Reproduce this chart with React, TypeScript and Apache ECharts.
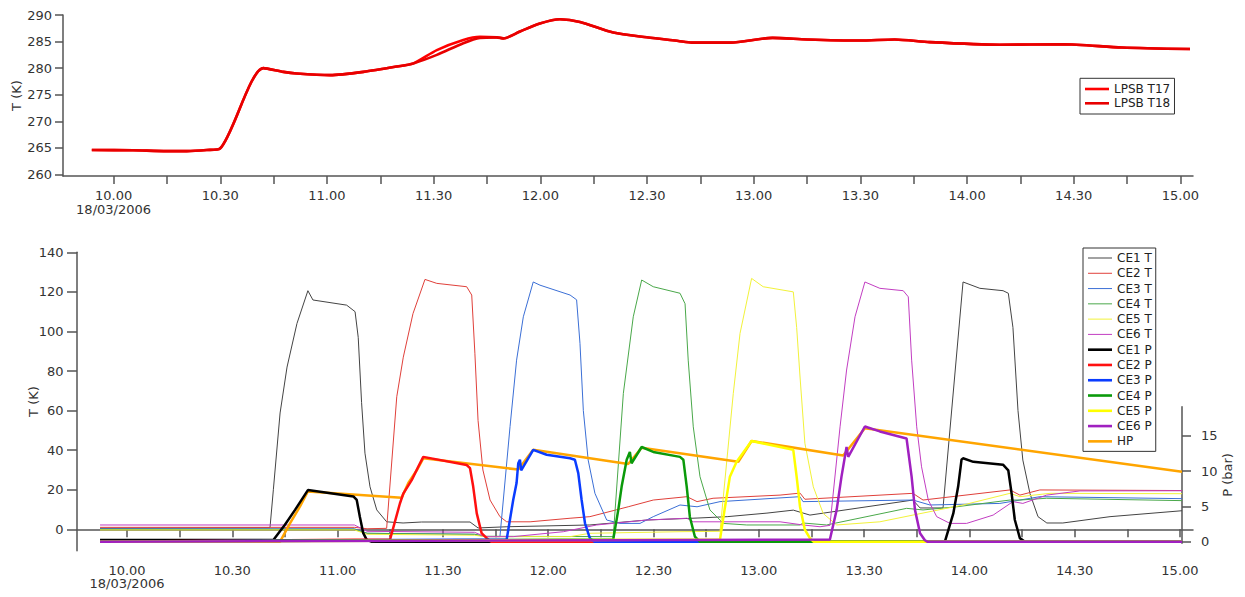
import React, { useEffect, useRef } from 'react';
import * as echarts from 'echarts';

const FONT = '"DejaVu Sans", Verdana, sans-serif';

// ---- axis ticks / labels (time in decimal hours) ----
const timeLabels = [10, 10.5, 11, 11.5, 12, 12.5, 13, 13.5, 14, 14.5, 15];
const timeTicks = [10, 10.25, 10.5, 10.75, 11, 11.25, 11.5, 11.75, 12, 12.25, 12.5, 12.75, 13, 13.25, 13.5, 13.75, 14, 14.25, 14.5, 14.75, 15];
const dateLabel = '18/03/2006';
const topTempTicks = [260, 265, 270, 275, 280, 285, 290];
const bottomTempTicks = [0, 20, 40, 60, 80, 100, 120, 140];
const pressureTicks = [0, 5, 10, 15];

// ---- top chart: LPSB temperatures (K) ----
const lpsbT17: [number, number][] = [
  [9.898, 264.6], [10.091, 264.55], [10.249, 264.4], [10.343, 264.4], [10.437, 264.6], [10.499, 264.9],
  [10.702, 280.0], [10.796, 279.3], [10.858, 279.0], [11.015, 278.7], [11.171, 279.3], [11.327, 280.3],
  [11.405, 280.9], [11.515, 283.4], [11.639, 285.3], [11.717, 285.9], [11.796, 285.8], [11.827, 285.6],
  [11.905, 286.9], [11.998, 288.4], [12.092, 289.2], [12.186, 288.7], [12.342, 286.7], [12.499, 285.8],
  [12.647, 285.1], [12.711, 284.8], [12.891, 284.8], [13.088, 285.7], [13.25, 285.4], [13.497, 285.2],
  [13.661, 285.4], [13.825, 284.9], [14.153, 284.4], [14.448, 284.5], [14.726, 283.9], [15.045, 283.6]
];
const lpsbT18: [number, number][] = [
  [9.898, 264.6], [10.091, 264.55], [10.249, 264.4], [10.343, 264.4], [10.437, 264.6], [10.499, 264.9],
  [10.702, 280.0], [10.796, 279.3], [10.858, 279.0], [11.015, 278.7], [11.171, 279.3], [11.327, 280.3],
  [11.405, 280.9], [11.515, 282.5], [11.639, 284.7], [11.717, 285.7], [11.796, 285.8], [11.827, 285.6],
  [11.905, 286.9], [11.998, 288.4], [12.092, 289.2], [12.186, 288.7], [12.342, 286.7], [12.499, 285.8],
  [12.647, 285.1], [12.711, 284.8], [12.891, 284.8], [13.088, 285.7], [13.25, 285.4], [13.497, 285.2],
  [13.661, 285.4], [13.825, 284.9], [14.153, 284.4], [14.448, 284.5], [14.726, 283.9], [15.045, 283.6]
];

// ---- bottom chart: cell temperatures (K) ----
const ce1T: [number, number][] = [
  [9.872, 0.5], [10.679, 0.8], [10.695, 20], [10.727, 58.8], [10.76, 82], [10.807, 104], [10.859, 120.6],
  [10.883, 115.9], [11.043, 113.3], [11.083, 110], [11.098, 97], [11.114, 64], [11.13, 38.5], [11.154, 21.5],
  [11.186, 9.8], [11.233, 3.8], [11.311, 3.2], [11.399, 3.7], [11.629, 3.7], [11.667, 0.7], [11.804, 1.3],
  [12.198, 2.2], [12.469, 4.7], [12.707, 5.7], [12.85, 6.4], [13.039, 8.2], [13.164, 9.7], [13.243, 7.2],
  [13.732, 14.8], [13.766, 10.8], [13.875, 10.8], [13.97, 125], [14.05, 121.8], [14.16, 120.6], [14.185, 119.3],
  [14.207, 102], [14.231, 60], [14.254, 35], [14.288, 18], [14.326, 6.4], [14.368, 3.2], [14.444, 3.2],
  [14.668, 6.4], [15.01, 9.4]
];
const ce2T: [number, number][] = [
  [9.872, 1.0], [11.08, 1.0], [11.14, 0.3], [11.233, 0.5], [11.281, 67], [11.312, 87], [11.358, 109],
  [11.415, 126.3], [11.471, 124.3], [11.613, 122.6], [11.637, 118.4], [11.652, 89], [11.667, 55], [11.69, 30],
  [11.724, 14.8], [11.771, 6.4], [11.803, 3.8], [11.914, 3.8], [12.104, 5.6], [12.198, 6.4], [12.38, 11.4],
  [12.499, 14.8], [12.659, 16.5], [12.707, 14], [12.783, 15.7], [13.101, 17.3], [13.196, 18.3], [13.219, 15.2],
  [13.732, 18.2], [13.78, 14.8], [14.193, 19.9], [14.24, 17.3], [14.335, 19.9], [15.01, 19.6]
];
const ce3T: [number, number][] = [
  [9.872, 0.3], [11.08, 0.3], [11.14, -2], [11.65, -2.5], [11.7, -3.7], [11.771, -3.7], [11.819, 52],
  [11.85, 85.5], [11.882, 107.4], [11.929, 125], [11.961, 123.4], [12.104, 118.4], [12.135, 116], [12.151, 94],
  [12.167, 60], [12.19, 35], [12.222, 18.2], [12.278, 4.7], [12.341, 3], [12.436, 3], [12.499, 6.4],
  [12.626, 12.3], [12.707, 11.4], [12.816, 14], [13.196, 16.5], [13.21, 14], [13.732, 14.8], [13.813, 12.3],
  [14.145, 13.1], [14.24, 14.8], [14.335, 16.5], [15.01, 15.5]
];
const ce4T: [number, number][] = [
  [9.872, 0], [11.08, 0], [11.14, -2], [11.65, -2.5], [11.7, -3.5], [12.309, -3.7], [12.357, 68.7],
  [12.404, 107.4], [12.444, 126], [12.499, 122.6], [12.626, 119.3], [12.65, 114], [12.665, 85.5], [12.689, 51.8],
  [12.721, 26.6], [12.768, 9.8], [12.832, 3], [12.943, 2.2], [13.196, 2.2], [13.21, 3.2], [13.322, 2.2],
  [13.702, 10.6], [13.78, 9.8], [13.94, 11.4], [14.193, 14.8], [14.24, 14.8], [14.367, 15.7], [15.01, 14.5]
];
const ce5T: [number, number][] = [
  [9.872, -0.3], [11.08, -0.3], [11.14, -2.5], [11.65, -3], [11.7, -3.7], [12.104, -3.7], [12.198, -2],
  [12.626, -1.2], [12.816, -1], [12.879, 68.7], [12.911, 99], [12.966, 126.8], [13.021, 122.6], [13.164, 120],
  [13.18, 102], [13.196, 77], [13.219, 43.5], [13.259, 21.5], [13.306, 8], [13.37, 2.2], [13.575, 3.8],
  [13.732, 7.2], [13.97, 12.3], [14.193, 18.2], [14.24, 16.5], [14.383, 18.2], [15.01, 18]
];
const ce6T: [number, number][] = [
  [9.872, 2.2], [11.08, 2.2], [11.14, -1], [11.65, -1.5], [11.7, -3.7], [11.834, -3.7], [12.072, -1.2],
  [12.23, 2.2], [12.468, 4.7], [12.658, 5.6], [12.689, 3.8], [13.101, 3.8], [13.21, 2.2], [13.291, 1.3],
  [13.338, 2], [13.386, 51.8], [13.417, 80.5], [13.457, 107.4], [13.504, 125], [13.575, 121.8], [13.686, 120.6],
  [13.71, 117.5], [13.726, 85.5], [13.75, 51.8], [13.773, 31.6], [13.805, 14.8], [13.845, 6.4], [13.908, 3],
  [13.987, 3], [14.113, 7.2], [14.207, 14], [14.254, 13.1], [14.367, 17.3], [14.525, 19.4], [15.01, 19.5]
];

// ---- bottom chart: pressures (bar) ----
const ce1P: [number, number][] = [
  [9.872, 0.24], [10.695, 0.24], [10.75, 2.4], [10.798, 4.5], [10.859, 7.3], [11.075, 6.4], [11.091, 5.9],
  [11.106, 3.5], [11.122, 1.2], [11.138, 0.3], [11.16, 0], [13.884, 0], [13.924, 4], [13.947, 7.8],
  [13.963, 11.6], [13.97, 11.8], [14.019, 11.3], [14.16, 10.9], [14.185, 10.1], [14.201, 6.8], [14.216, 3.1],
  [14.24, 0.5], [14.264, 0], [15.01, 0]
];
const ce2P: [number, number][] = [
  [9.872, 0], [11.249, 0.3], [11.296, 5.4], [11.312, 6.8], [11.352, 8.7], [11.383, 10.6], [11.407, 12.0],
  [11.613, 10.85], [11.629, 10.4], [11.644, 7.8], [11.661, 4], [11.684, 1.2], [11.708, 0.5], [11.73, 0], [15.01, 0]
];
const ce3P: [number, number][] = [
  [9.872, 0], [11.803, 0.3], [11.834, 5.9], [11.85, 8.3], [11.858, 11.1], [11.866, 11.6], [11.872, 10.1],
  [11.929, 13], [11.993, 12.3], [12.104, 11.8], [12.127, 11.6], [12.143, 9.7], [12.159, 5.9], [12.175, 2.6],
  [12.198, 0.5], [12.22, 0], [15.01, 0]
];
const ce4P: [number, number][] = [
  [9.872, 0], [12.309, 0.3], [12.333, 4.5], [12.349, 7.8], [12.373, 11.6], [12.388, 12.7], [12.396, 11.1],
  [12.444, 13.4], [12.499, 12.7], [12.626, 12], [12.642, 11.6], [12.658, 7.8], [12.673, 3.5], [12.697, 0.7],
  [12.72, 0], [15.01, 0]
];
const ce5P: [number, number][] = [
  [9.872, 0], [12.816, 0.3], [12.84, 4.95], [12.863, 9.2], [12.895, 11.3], [12.966, 14.25], [13.164, 13],
  [13.18, 9.2], [13.196, 4.95], [13.219, 1.7], [13.243, 0.5], [13.26, 0], [15.01, 0]
];
const ce6P: [number, number][] = [
  [9.872, 0], [13.338, 0.3], [13.37, 4.5], [13.393, 9.2], [13.417, 13.4], [13.425, 12], [13.504, 16.3],
  [13.575, 15.6], [13.702, 14.6], [13.726, 9.2], [13.742, 4.5], [13.766, 1.2], [13.789, 0.2], [13.8, 0], [15.01, 0]
];
const hp: [number, number][] = [
  [9.872, 0], [10.727, 0], [10.774, 2.6], [10.821, 4.95], [10.859, 7.1], [11.304, 6.2], [11.336, 8.3],
  [11.376, 10.1], [11.407, 11.8], [11.858, 10.2], [11.929, 13], [12.38, 11], [12.444, 13.3], [12.903, 11.3],
  [12.966, 14.25], [13.401, 12.2], [13.504, 16.05], [15.01, 9.9]
];

const fmtTime = (v: number) => {
  const h = Math.floor(v + 1e-6);
  const m = Math.round((v - h) * 60);
  const s = h + '.' + (m < 10 ? '0' : '') + m;
  return Math.abs(v - 10) < 1e-6 ? s + '\n' + dateLabel : s;
};

const AX = '#555';
const TXT = '#333';
const THIN_ICON = 'path://M0,0H24V1H0Z';
const THICK_ICON = 'path://M0,0H24V2.6H0Z';

const xAxisBase = (gridIndex: number, min: number, max: number, show = true) => ({
  type: 'value', gridIndex, min, max, show,
  axisLine: { show: true, lineStyle: { color: AX, width: 1.5 } },
  axisTick: { show: true, customValues: timeTicks, length: 8, lineStyle: { color: AX, width: 1.5 } },
  axisLabel: { customValues: timeLabels, formatter: fmtTime, margin: 13, fontSize: 13, lineHeight: 13.5, color: TXT, fontFamily: FONT },
  splitLine: { show: false }
});

const yAxisBase = (gridIndex: number, min: number, max: number, ticks: number[], name: string, nameGap: number, position = 'left', margin = 11, tickLen = 8) => ({
  type: 'value', gridIndex, min, max, position, name, nameLocation: 'middle', nameGap, nameMoveOverlap: false,
  nameTextStyle: { fontSize: 13, color: TXT, fontFamily: FONT },
  axisLine: { show: true, lineStyle: { color: AX, width: 1.5 } },
  axisTick: { show: true, customValues: ticks, length: tickLen, lineStyle: { color: AX, width: 1.5 } },
  axisLabel: { customValues: ticks, margin, fontSize: 13, color: TXT, fontFamily: FONT },
  splitLine: { show: false }
});

const line = (name: string, data: [number, number][], color: string, width: number, axis: number, smooth = 0) => ({
  type: 'line', name, data, xAxisIndex: axis, yAxisIndex: axis, symbol: 'none', showSymbol: false, smooth,
  lineStyle: { color, width }, itemStyle: { color }, emphasis: { disabled: true }, silent: true, clip: false
});

const bottomLegend = ['CE1 T', 'CE2 T', 'CE3 T', 'CE4 T', 'CE5 T', 'CE6 T', 'CE1 P', 'CE2 P', 'CE3 P', 'CE4 P', 'CE5 P', 'CE6 P', 'HP'];
const topLegend = ['LPSB T17', 'LPSB T18'];

export default function App() {
  const ref = useRef<HTMLDivElement>(null);
  useEffect(() => {
    if (!ref.current) return;
    const chart = echarts.init(ref.current, null, { renderer: 'svg' });
    const legendCommon = {
      orient: 'vertical', selectedMode: false, borderColor: '#333', borderWidth: 1,
      itemWidth: 24, itemHeight: 12, backgroundColor: '#fff', symbolKeepAspect: true,
      textStyle: { fontSize: 12, color: '#222', fontFamily: FONT, lineHeight: 12 }
    };
    chart.setOption({
      animation: false,
      backgroundColor: '#fff',
      textStyle: { fontFamily: FONT },
      grid: [
        { left: 63, right: 52, top: 15, height: 161 },
        { left: 77, right: 52, top: 252.3, height: 298.4 },
        { left: 77, right: 63, top: 406.7, height: 136.6 }
      ],
      xAxis: [
        xAxisBase(0, 9.763, 15.059),
        xAxisBase(1, 9.7626, 15.062),
        xAxisBase(2, 9.7626, 15.01, false)
      ],
      yAxis: [
        yAxisBase(0, 259.72, 290, topTempTicks, 'T (K)', 40, 'left', 11, 8),
        yAxisBase(1, -10.8, 140, bottomTempTicks, 'T (K)', 37.5, 'left', 13.5, 10),
        yAxisBase(2, -0.23, 19.1, pressureTicks, 'P (bar)', 39, 'right', 19, 9)
      ],
      legend: [
        {
          ...legendCommon, left: 1080, top: 78.3, padding: [4.7, 4.3, 4.7, 5], itemGap: 2.3,
          data: topLegend.map((n) => ({ name: n, icon: THICK_ICON }))
        },
        {
          ...legendCommon, left: 1083, top: 248, padding: [4, 4, 4, 5], itemGap: 3.28,
          data: bottomLegend.map((n) => ({ name: n, icon: n.endsWith('T') ? THIN_ICON : THICK_ICON }))
        }
      ],
      series: [
        line('LPSB T17', lpsbT17, '#ff0000', 2.6, 0, 0.25),
        line('LPSB T18', lpsbT18, '#e80000', 2.6, 0, 0.25),
        line('CE1 T', ce1T, '#444444', 1, 1),
        line('CE2 T', ce2T, '#e0403a', 1, 1),
        line('CE3 T', ce3T, '#3b6fd6', 1, 1),
        line('CE4 T', ce4T, '#4aa84a', 1, 1),
        line('CE5 T', ce5T, '#f2f23a', 1, 1),
        line('CE6 T', ce6T, '#c23ec2', 1, 1),
        line('HP', hp, '#ffa500', 2.5, 2),
        line('CE1 P', ce1P, '#000000', 2.5, 2),
        line('CE2 P', ce2P, '#ff1010', 2.5, 2),
        line('CE3 P', ce3P, '#0a3cff', 2.5, 2),
        line('CE4 P', ce4P, '#0a9a0a', 2.5, 2),
        line('CE5 P', ce5P, '#ffff00', 2.5, 2),
        line('CE6 P', ce6P, '#a020c0', 2.5, 2)
      ]
    });
    return () => chart.dispose();
  }, []);
  return <div ref={ref} style={{ position: 'absolute', left: 0, top: 0, width: 1245, height: 597, background: '#fff' }} />;
}
